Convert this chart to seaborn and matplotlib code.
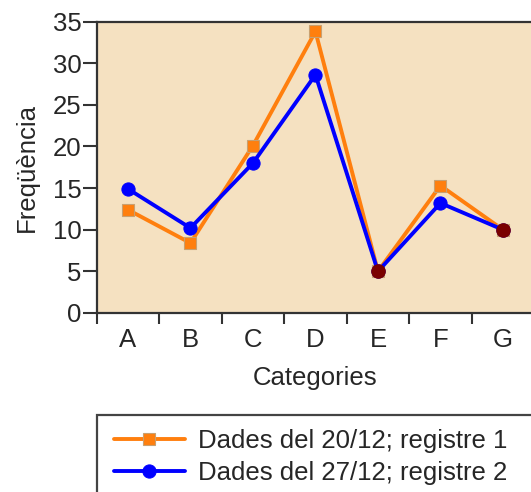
import numpy as np
import pandas as pd
import matplotlib
matplotlib.use("Agg")
import matplotlib.pyplot as plt
import seaborn as sns
from matplotlib.patches import Rectangle

# dades llegides del gràfic
categories = ["A", "B", "C", "D", "E", "F", "G"]
registre_1 = [12.4, 8.4, 20.1, 33.8, 5.0, 15.3, 10.0]
registre_2 = [14.9, 10.2, 18.0, 28.6, 5.0, 13.2, 10.0]
label_1 = "Dades del 20/12; registre 1"
label_2 = "Dades del 27/12; registre 2"

df = pd.DataFrame({"Categoria": categories, "r1": registre_1, "r2": registre_2})
iguals = df[np.isclose(df["r1"], df["r2"])]

FS = 18.5

sns.set_style("ticks")
plt.rcParams["font.family"] = ["Liberation Sans", "DejaVu Sans"]
plt.rcParams["font.size"] = FS

fig = plt.figure(figsize=(5.31, 4.92), dpi=100)
ax = fig.add_axes([96.7 / 531, 179 / 492, 437.5 / 531, 291.5 / 492])
ax.set_facecolor("#F5E1C1")

sns.lineplot(data=df, x="Categoria", y="r1", ax=ax, color="#FF7F0E", lw=2.8,
             marker="s", markersize=8, markeredgecolor="#C8A070",
             markeredgewidth=0.8, label=label_1, sort=False)
sns.lineplot(data=df, x="Categoria", y="r2", ax=ax, color="#0000FF", lw=2.8,
             marker="o", markersize=9.5, markeredgecolor="#0000FF",
             label=label_2, sort=False)
ax.plot(iguals["Categoria"], iguals["r1"], "o", color="#7A0000",
        markersize=9.5, zorder=5)

ax.set_xlim(-0.5, 6.5)
ax.set_ylim(0, 35)
ax.set_yticks(np.arange(0, 36, 5))
ax.set_xticks(range(len(categories)))
ax.set_xticklabels(categories)
ax.set_xticks(np.arange(-0.5, 6, 1), minor=True)
ax.tick_params(axis="x", which="major", length=0, pad=11, labelsize=FS)
ax.tick_params(axis="x", which="minor", length=8, width=1.5, color="#333333")
ax.tick_params(axis="y", length=10, width=1.5, color="#333333", labelsize=FS, pad=1)

ax.set_xlabel("Categories", fontsize=FS, labelpad=10)
ax.set_ylabel("Freqüència", fontsize=FS, labelpad=10)

for s in ax.spines.values():
    s.set_color("#333333")
    s.set_linewidth(1.6)

ax.get_legend().remove()
h, l = ax.get_legend_handles_labels()
fig.legend(h[:2], l[:2], loc="upper left", frameon=False,
           bbox_to_anchor=(114 / 531, (492 - 429) / 492), borderaxespad=0,
           borderpad=0, handlelength=2.75, handletextpad=0.5,
           labelspacing=0.3, fontsize=FS)
fig.patches.append(Rectangle((97 / 531, -0.05), 0.9, (492 - 415) / 492 + 0.05,
                             transform=fig.transFigure, fill=False,
                             edgecolor="#444444", linewidth=1.6))

fig.savefig("out.png", dpi=100)
